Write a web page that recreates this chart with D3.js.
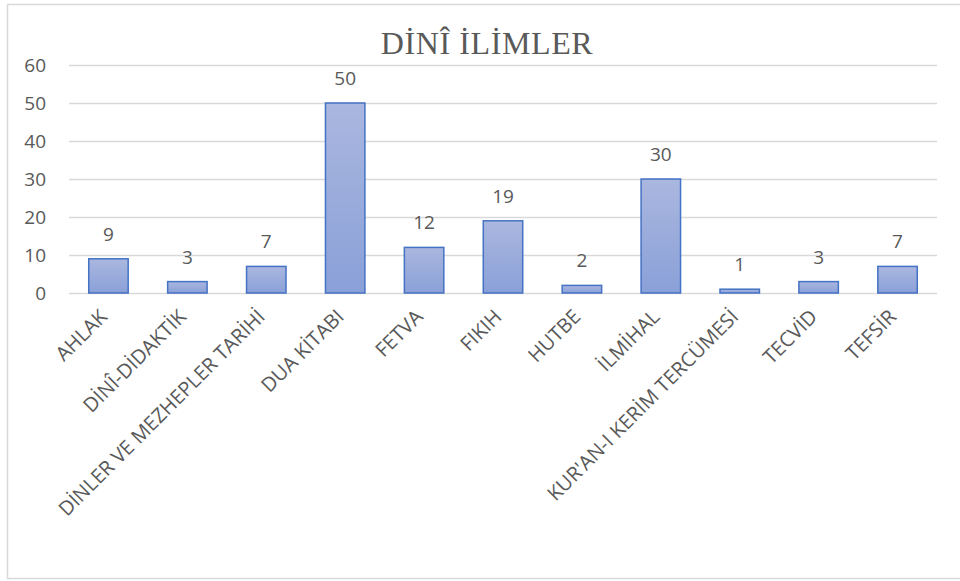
<!DOCTYPE html>
<html>
<head>
<meta charset="utf-8">
<script src="https://cdn.jsdelivr.net/npm/d3@7"></script>
<style>
  html, body { margin: 0; padding: 0; background: #fff; }
  svg { display: block; }
</style>
</head>
<body>
<svg id="chart" width="960" height="581"></svg>
<script>
const categories = ["AHLAK", "DİNÎ-DİDAKTİK", "DİNLER VE MEZHEPLER TARİHİ", "DUA KİTABI", "FETVA", "FIKIH", "HUTBE", "İLMİHAL", "KUR'AN-I KERİM TERCÜMESİ", "TECVİD", "TEFSİR"];
const values = [9, 3, 7, 50, 12, 19, 2, 30, 1, 3, 7];
const yTicks = [0, 10, 20, 30, 40, 50, 60];
const title = "DİNÎ İLİMLER";

const svg = d3.select("#chart");
const W = 960, H = 581;
const margin = { left: 69, right: 23, top: 65, bottom: 288 };
const sans = "'Open Sans', 'Liberation Sans', sans-serif";
const textColor = "#595959";

// chart frame
svg.append("rect")
  .attr("x", 7.5).attr("y", 4.5)
  .attr("width", 960).attr("height", 574)
  .attr("fill", "#fff").attr("stroke", "#d9d9d9").attr("stroke-width", 1.5);

const x = d3.scaleBand()
  .domain(categories)
  .range([margin.left, W - margin.right])
  .paddingInner(0.5).paddingOuter(0.25);

const y = d3.scaleLinear().domain([0, 60]).range([H - margin.bottom, margin.top]);

// vertical gradient for bars
const defs = svg.append("defs");
const grad = defs.append("linearGradient").attr("id", "barGrad")
  .attr("x1", 0).attr("y1", 0).attr("x2", 0).attr("y2", 1);
grad.append("stop").attr("offset", "0%").attr("stop-color", "#aab7df");
grad.append("stop").attr("offset", "100%").attr("stop-color", "#8aa0d8");

// gridlines
const grid = svg.append("g")
  .attr("transform", `translate(${margin.left},0)`)
  .call(d3.axisLeft(y).tickValues(yTicks).tickSize(-(W - margin.left - margin.right)).tickFormat(""));
grid.select(".domain").remove();
grid.selectAll("line").attr("stroke", "#d9d9d9").attr("stroke-width", 1.3);

// y axis labels
const yAxis = svg.append("g")
  .attr("transform", `translate(${margin.left},0)`)
  .call(d3.axisLeft(y).tickValues(yTicks).tickSize(0).tickPadding(23));
yAxis.select(".domain").remove();
yAxis.selectAll("text")
  .attr("fill", textColor)
  .style("font-family", sans)
  .style("font-size", "19px");

// bars
svg.append("g").selectAll("rect")
  .data(values)
  .join("rect")
  .attr("x", (d, i) => x(categories[i]))
  .attr("y", d => y(d))
  .attr("width", x.bandwidth())
  .attr("height", d => y(0) - y(d))
  .attr("fill", "url(#barGrad)")
  .attr("stroke", "#4472c4")
  .attr("stroke-width", 1.5);

// value labels
svg.append("g").selectAll("text")
  .data(values)
  .join("text")
  .attr("x", (d, i) => x(categories[i]) + x.bandwidth() / 2)
  .attr("y", d => y(d) - 18)
  .attr("text-anchor", "middle")
  .attr("fill", textColor)
  .style("font-family", sans)
  .style("font-size", "19px")
  .text(d => d);

// x axis category labels, rotated 45 degrees
const xAxis = svg.append("g")
  .attr("transform", `translate(0,${y(0)})`)
  .call(d3.axisBottom(x).tickSize(0).tickPadding(0));
xAxis.select(".domain").remove();
xAxis.selectAll("text")
  .attr("fill", textColor)
  .style("font-family", sans)
  .style("font-size", "20px")
  .attr("text-anchor", "end")
  .attr("x", 0).attr("y", 0).attr("dy", 0)
  .attr("transform", "translate(0,25) rotate(-45)");

// title
svg.append("text")
  .attr("x", 487).attr("y", 54)
  .attr("text-anchor", "middle")
  .attr("fill", textColor)
  .style("font-family", "'Liberation Serif', 'Times New Roman', serif")
  .style("font-size", "32px")
  .style("letter-spacing", "0.6px")
  .text(title);
</script>
</body>
</html>
